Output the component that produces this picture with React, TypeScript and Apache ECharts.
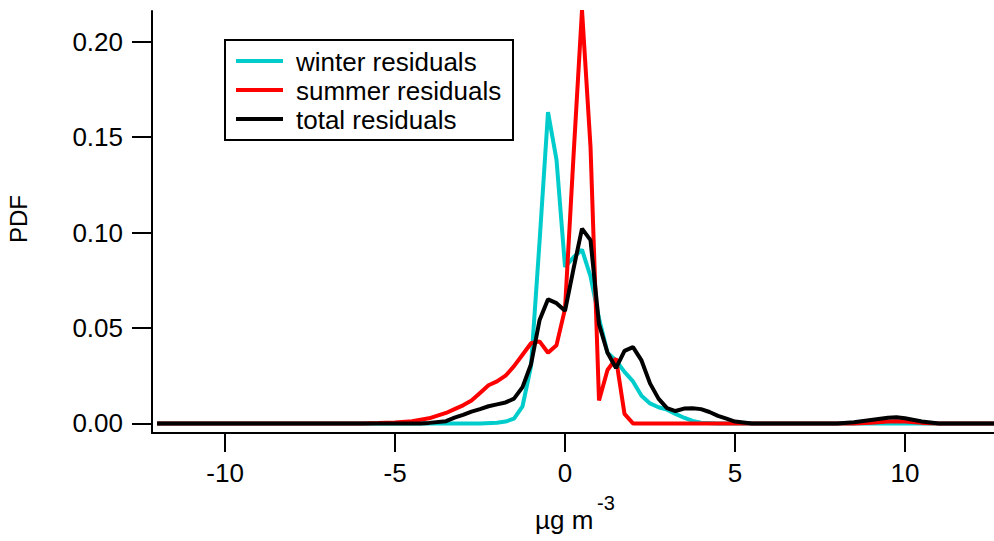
import React, { useEffect, useRef } from "react";
import * as echarts from "echarts";

// x in µg m^-3, y = PDF
const winterResiduals: [number, number][] = [
  [-12.0, 0], [-2.5, 0], [-2.0, 0.0004], [-1.75, 0.001], [-1.5, 0.0025], [-1.25, 0.009],
  [-1.0, 0.03], [-0.75, 0.095], [-0.5, 0.163], [-0.25, 0.138], [0.0, 0.082], [0.25, 0.087],
  [0.5, 0.091], [0.75, 0.077], [1.0, 0.055], [1.25, 0.037], [1.5, 0.033], [1.75, 0.027],
  [2.0, 0.022], [2.25, 0.0145], [2.5, 0.0105], [2.75, 0.0085], [3.0, 0.0072], [3.25, 0.005],
  [3.5, 0.003], [3.75, 0.0013], [4.0, 0.0004], [4.5, 0], [12.62, 0],
];

const summerResiduals: [number, number][] = [
  [-12.0, 0], [-6.0, 0], [-5.5, 0.0002], [-5.0, 0.0005], [-4.5, 0.0012], [-4.0, 0.0027],
  [-3.5, 0.0055], [-3.25, 0.0075], [-3.0, 0.0095], [-2.75, 0.012], [-2.5, 0.016],
  [-2.25, 0.020], [-2.0, 0.022], [-1.75, 0.025], [-1.5, 0.030], [-1.25, 0.036],
  [-1.0, 0.042], [-0.75, 0.043], [-0.5, 0.037], [-0.25, 0.041], [0.0, 0.060], [0.25, 0.140],
  [0.5, 0.2165], [0.75, 0.145], [1.0, 0.012], [1.25, 0.028], [1.5, 0.034], [1.75, 0.005],
  [2.0, 0], [8.5, 0], [9.0, 0.0004], [9.5, 0.001], [9.75, 0.0012], [10.0, 0.001],
  [10.5, 0.0003], [11.0, 0], [12.62, 0],
];

const totalResiduals: [number, number][] = [
  [-12.0, 0], [-4.25, 0], [-4.0, 0.0003], [-3.5, 0.0012], [-3.25, 0.003], [-3.0, 0.0045],
  [-2.75, 0.0062], [-2.5, 0.0075], [-2.25, 0.009], [-2.0, 0.010], [-1.75, 0.011],
  [-1.5, 0.013], [-1.25, 0.019], [-1.0, 0.031], [-0.75, 0.054], [-0.5, 0.065],
  [-0.25, 0.063], [0.0, 0.059], [0.25, 0.081], [0.5, 0.102], [0.75, 0.096], [1.0, 0.052],
  [1.25, 0.037], [1.5, 0.029], [1.75, 0.038], [2.0, 0.040], [2.25, 0.033], [2.5, 0.021],
  [2.75, 0.013], [3.0, 0.008], [3.25, 0.0065], [3.5, 0.0078], [3.75, 0.008], [4.0, 0.0075],
  [4.25, 0.006], [4.5, 0.004], [4.75, 0.0025], [5.0, 0.001], [5.5, 0], [8.0, 0],
  [8.5, 0.0006], [9.0, 0.0018], [9.5, 0.003], [9.75, 0.0033], [10.0, 0.0027],
  [10.5, 0.001], [11.0, 0], [12.62, 0],
];

const seriesNames = ["winter residuals", "summer residuals", "total residuals"];
const seriesColors = ["#00CCCC", "#FF0000", "#000000"];
const xTicks = [-10, -5, 0, 5, 10];
const yTicks = [0, 0.05, 0.1, 0.15, 0.2];

const FONT = '"Liberation Sans", Arial, Helvetica, sans-serif';

export default function App() {
  const ref = useRef<HTMLDivElement>(null);

  useEffect(() => {
    if (!ref.current) return;
    const chart = echarts.init(ref.current, undefined, { renderer: "svg" });
    const datasets = [winterResiduals, summerResiduals, totalResiduals];

    const legendGraphics: any[] = [
      {
        type: "rect",
        shape: { x: 225, y: 40, width: 288, height: 100 },
        style: { fill: "#ffffff", stroke: "#000000", lineWidth: 2 },
        z: 100,
      },
    ];
    seriesNames.forEach((name, i) => {
      const cy = 61 + i * 29;
      legendGraphics.push({
        type: "line",
        shape: { x1: 236, y1: cy, x2: 283, y2: cy },
        style: { stroke: seriesColors[i], lineWidth: 4 },
        z: 101,
      });
      legendGraphics.push({
        type: "text",
        x: 296,
        y: cy + 1,
        style: {
          text: name,
          font: `26px ${FONT}`,
          fill: "#000000",
          align: "left",
          verticalAlign: "middle",
        },
        z: 101,
      });
    });

    chart.setOption({
      animation: false,
      backgroundColor: "#ffffff",
      grid: { left: 152, right: 0, top: 11, bottom: 108, containLabel: false },
      xAxis: {
        type: "value",
        min: -12.15,
        max: 12.62,
        axisLine: { show: true, onZero: false, lineStyle: { color: "#000", width: 2 } },
        axisTick: {
          show: true,
          length: 19,
          customValues: xTicks,
          lineStyle: { color: "#000", width: 2 },
        },
        axisLabel: {
          customValues: xTicks,
          margin: 27,
          fontSize: 26,
          fontFamily: FONT,
          color: "#000",
          formatter: (v: number) => String(v),
        },
        splitLine: { show: false },
      },
      yAxis: {
        type: "value",
        min: -0.005,
        max: 0.216,
        axisLine: { show: true, onZero: false, lineStyle: { color: "#000", width: 2 } },
        axisTick: {
          show: true,
          length: 20,
          customValues: yTicks,
          lineStyle: { color: "#000", width: 2 },
        },
        axisLabel: {
          customValues: yTicks,
          margin: 29,
          fontSize: 26,
          fontFamily: FONT,
          color: "#000",
          formatter: (v: number) => v.toFixed(2),
        },
        splitLine: { show: false },
      },
      series: datasets.map((d, i) => ({
        name: seriesNames[i],
        type: "line",
        data: d,
        showSymbol: false,
        symbol: "none",
        clip: false,
        lineStyle: { color: seriesColors[i], width: 4 },
        itemStyle: { color: seriesColors[i] },
        z: 2 + i,
      })),
      graphic: [
        ...legendGraphics,
        {
          type: "text",
          x: 18,
          y: 219,
          rotation: Math.PI / 2,
          style: {
            text: "PDF",
            font: `24px ${FONT}`,
            fill: "#000",
            align: "center",
            verticalAlign: "middle",
          },
        },
        {
          type: "text",
          x: 535,
          y: 520,
          style: {
            text: "µg m",
            font: `26px ${FONT}`,
            fill: "#000",
            align: "left",
            verticalAlign: "middle",
          },
        },
        {
          type: "text",
          x: 597,
          y: 503,
          style: {
            text: "-3",
            font: `20px ${FONT}`,
            fill: "#000",
            align: "left",
            verticalAlign: "middle",
          },
        },
      ],
    });

    return () => chart.dispose();
  }, []);

  return (
    <div
      ref={ref}
      style={{ position: "fixed", left: 0, top: 0, width: 994, height: 541, background: "#fff" }}
    />
  );
}
